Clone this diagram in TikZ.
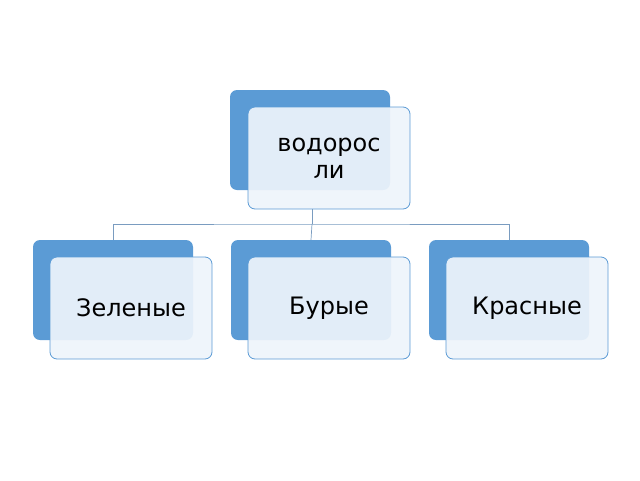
\documentclass[tikz,border=0pt]{standalone}
\usepackage{fontspec}
\setmainfont{DejaVu Sans}
\begin{document}
\begin{tikzpicture}[x=1pt,y=-1pt,
  back/.style={fill=blueA,draw=none,rounded corners=7pt},
  front/.style={fill=frontC,fill opacity=0.92,draw=blueA,line width=0.8pt,rounded corners=7pt,text opacity=1,font=\fontsize{24}{27}\selectfont,align=center,text=black},
  conn/.style={draw=lineC,line width=0.7pt}]
\definecolor{blueA}{HTML}{5B9BD5}
\definecolor{frontC}{HTML}{EEF4FB}
\definecolor{lineC}{HTML}{7A9CC0}
\useasboundingbox (0,0) rectangle (640,480);
\path[back] (230,90) rectangle (390,190);
\node[front,minimum width=162pt,minimum height=102pt,inner sep=0pt] (top) at (329,158) {водорос\\ли};
\foreach \n/\x/\t in {a/113/Зеленые,b/311/Бурые,c/509/Красные}{
  \path[back] (\x-80,240) rectangle (\x+80,340);
  \coordinate (\n b) at (\x,240);
  \node[front,minimum width=162pt,minimum height=102pt,inner sep=0pt] (\n) at (\x+18,308) {\t};
}
\coordinate (hub) at (312,224);
\draw[conn] (top.south -| hub) -- (hub);
\draw[conn] (ab) |- (hub) -| (cb);
\draw[conn] (hub) -- (bb);
\end{tikzpicture}
\end{document}
